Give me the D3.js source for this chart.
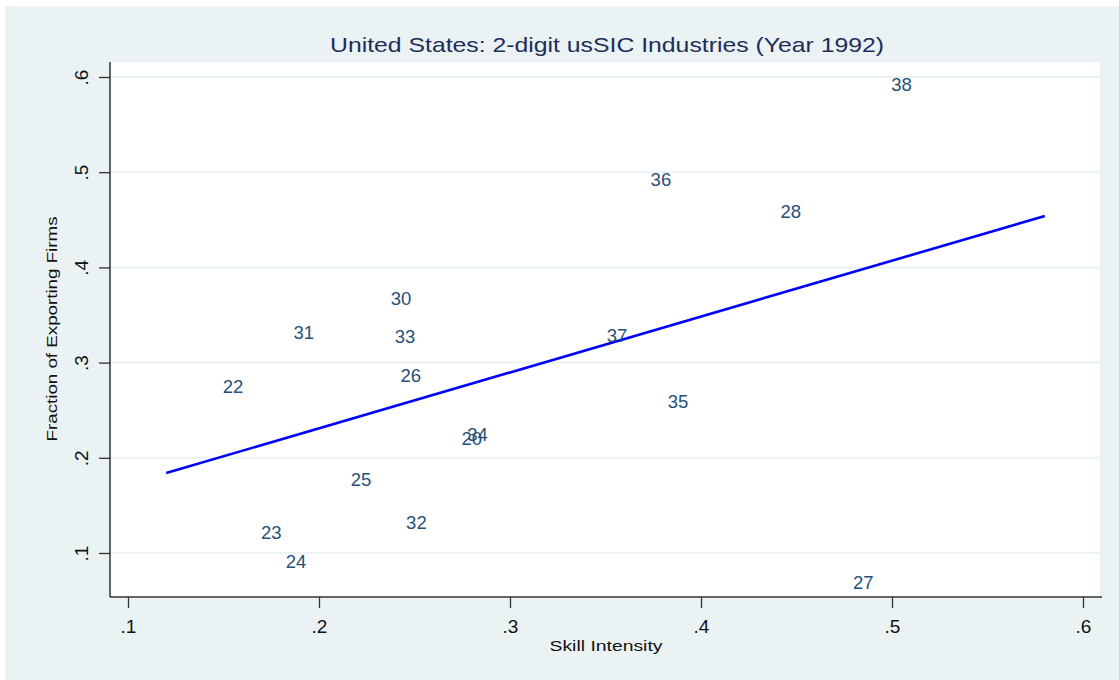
<!DOCTYPE html>
<html>
<head>
<meta charset="utf-8">
<script src="https://cdn.jsdelivr.net/npm/d3@7"></script>
<style>
  html, body { margin: 0; padding: 0; background: #ffffff; }
  svg { display: block; }
  text { font-family: "Liberation Sans", Arial, sans-serif; }
</style>
</head>
<body>
<svg id="chart" width="1119" height="680"></svg>
<script>
// Two-digit SIC industry codes, with skill intensity (x) and share of exporting firms (y)
const industries = ["38", "36", "28", "30", "31", "33", "37", "22", "26", "35", "20", "34", "25", "32", "23", "24", "27"];
const skillIntensity = [0.505, 0.379, 0.447, 0.243, 0.192, 0.245, 0.356, 0.155, 0.248, 0.388, 0.280, 0.283, 0.222, 0.251, 0.175, 0.188, 0.485];
const exportShare = [0.592, 0.492, 0.459, 0.367, 0.332, 0.328, 0.329, 0.275, 0.287, 0.259, 0.220, 0.225, 0.177, 0.132, 0.122, 0.091, 0.069];

// Linear fit, drawn between its two end points
const fitX = [0.12, 0.58];
const fitY = [0.184, 0.454];

const xTicks = [0.1, 0.2, 0.3, 0.4, 0.5, 0.6];
const yTicks = [0.1, 0.2, 0.3, 0.4, 0.5, 0.6];
const tickFormat = v => d3.format(".1f")(v).replace(/^0/, "");

const titleText = "United States: 2-digit usSIC Industries (Year 1992)";
const xTitle = "Skill Intensity";
const yTitle = "Fraction of Exporting Firms";

const svg = d3.select("#chart");

// Outer graph region
svg.append("rect").attr("x", 5).attr("y", 6).attr("width", 1114).attr("height", 674)
  .attr("fill", "#eaf2f3");

// Plot region
const plot = { left: 110, right: 1100, top: 62, bottom: 597 };
svg.append("rect").attr("x", plot.left).attr("y", plot.top)
  .attr("width", plot.right - plot.left).attr("height", plot.bottom - plot.top)
  .attr("fill", "#ffffff");

const x = d3.scaleLinear().domain([0.1, 0.6]).range([128, 1083]);
const y = d3.scaleLinear().domain([0.1, 0.6]).range([553, 77]);

// Horizontal grid lines
svg.append("g").selectAll("line").data(yTicks).join("line")
  .attr("x1", plot.left).attr("x2", plot.right)
  .attr("y1", d => y(d)).attr("y2", d => y(d))
  .attr("stroke", "#eaf2f3").attr("stroke-width", 2);

// Y axis
const yAxis = svg.append("g").attr("transform", `translate(${plot.left},0)`)
  .call(d3.axisLeft(y).tickValues(yTicks).tickSize(11).tickFormat(tickFormat));
yAxis.select(".domain").attr("d", `M0,${plot.top}V${plot.bottom}`)
  .attr("stroke", "#333").attr("stroke-width", 1.5);
yAxis.selectAll(".tick line").attr("stroke", "#333").attr("stroke-width", 1.3);
yAxis.selectAll(".tick text")
  .attr("x", null).attr("dy", null)
  .attr("transform", "translate(-22,0) rotate(-90)")
  .attr("text-anchor", "middle")
  .attr("font-size", 19).attr("fill", "#111")
  .style("font-family", "'Liberation Sans', Arial, sans-serif");

// X axis
const xAxis = svg.append("g").attr("transform", `translate(0,${plot.bottom})`)
  .call(d3.axisBottom(x).tickValues(xTicks).tickSize(11).tickFormat(tickFormat));
xAxis.select(".domain").attr("d", `M${plot.left},0H${plot.right + 2}`)
  .attr("stroke", "#333").attr("stroke-width", 1.5);
xAxis.selectAll(".tick line").attr("stroke", "#333").attr("stroke-width", 1.3);
xAxis.selectAll(".tick text")
  .attr("y", 36).attr("dy", null)
  .attr("font-size", 19).attr("fill", "#111")
  .style("font-family", "'Liberation Sans', Arial, sans-serif");

// Fitted line
const fitPts = fitX.map((v, i) => [v, fitY[i]]);
svg.append("path").datum(fitPts)
  .attr("d", d3.line().x(d => x(d[0])).y(d => y(d[1])))
  .attr("fill", "none").attr("stroke", "#0000ff").attr("stroke-width", 2.6);

// Industry labels placed at each observation
svg.append("g").selectAll("text").data(industries).join("text")
  .attr("x", (d, i) => x(skillIntensity[i]))
  .attr("y", (d, i) => y(exportShare[i]))
  .attr("dy", "0.36em")
  .attr("text-anchor", "middle")
  .attr("font-size", 18.5)
  .attr("fill", "#26507a")
  .text(d => d);

// Titles
svg.append("text").attr("x", 607).attr("y", 52).attr("text-anchor", "middle")
  .attr("font-size", 21).attr("fill", "#1e2d5a")
  .attr("textLength", 554).attr("lengthAdjust", "spacingAndGlyphs")
  .text(titleText);

svg.append("text").attr("x", 606).attr("y", 651).attr("text-anchor", "middle")
  .attr("font-size", 15).attr("fill", "#111")
  .attr("textLength", 113).attr("lengthAdjust", "spacingAndGlyphs")
  .text(xTitle);

svg.append("text").attr("transform", "translate(57,329) rotate(-90)")
  .attr("text-anchor", "middle")
  .attr("font-size", 15).attr("fill", "#111")
  .attr("textLength", 225).attr("lengthAdjust", "spacingAndGlyphs")
  .text(yTitle);
</script>
</body>
</html>
